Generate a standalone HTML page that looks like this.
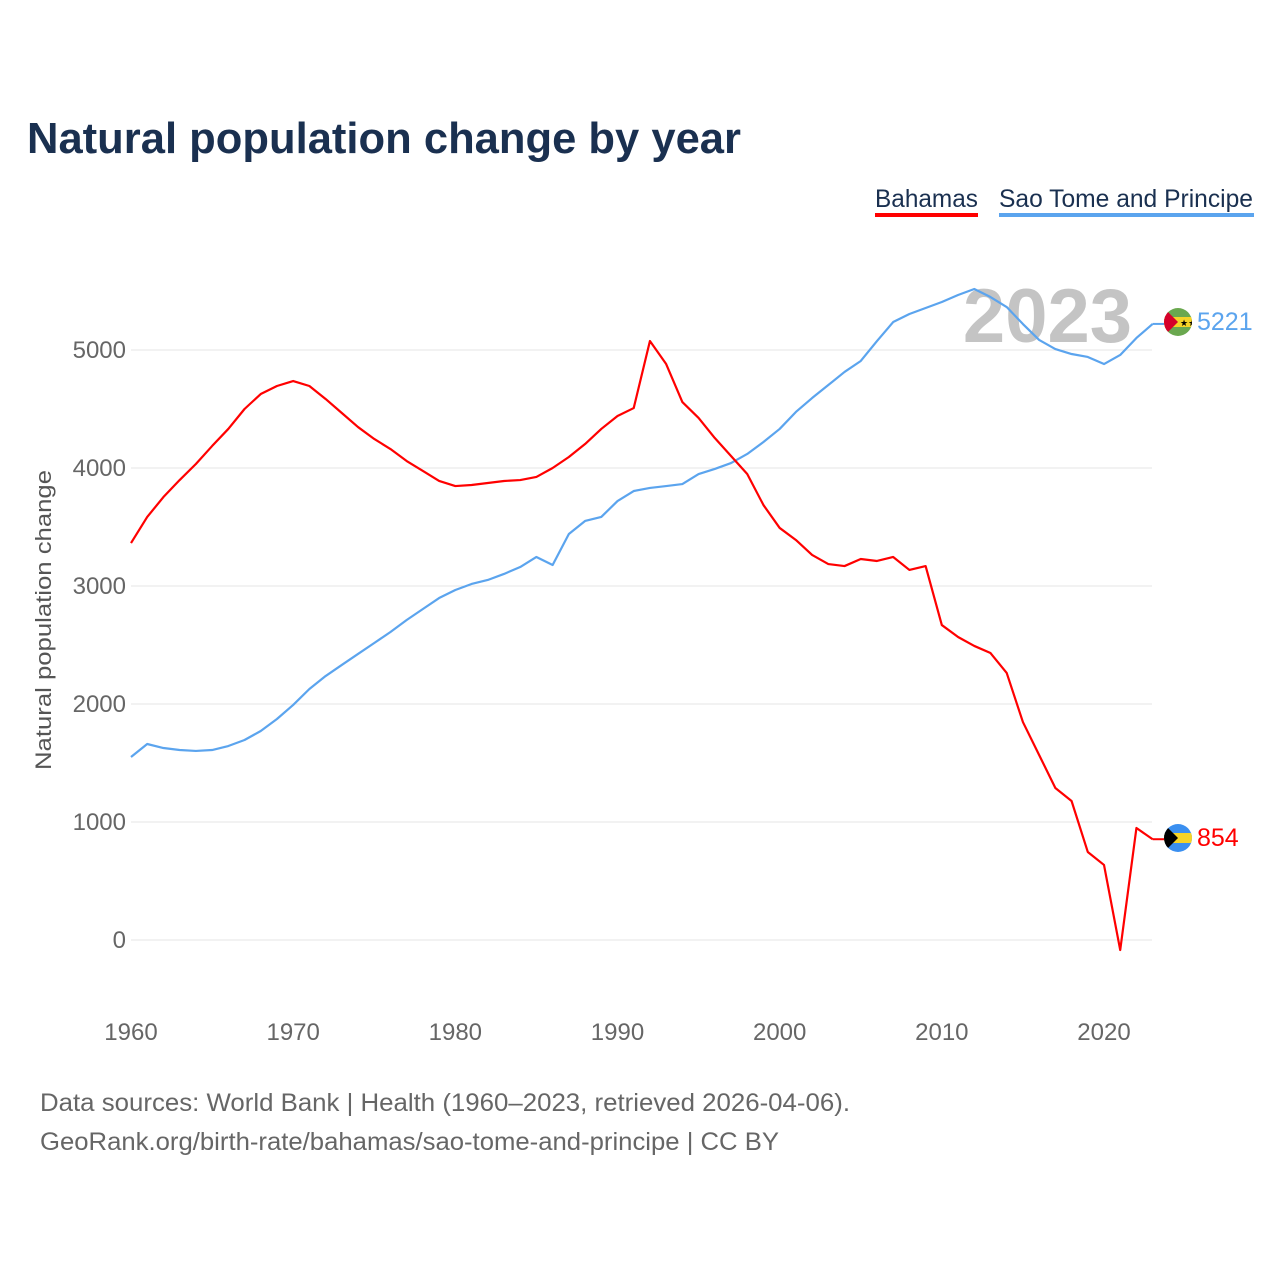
<!DOCTYPE html>
<html><head><meta charset="utf-8">
<style>
body{margin:0;background:#fff;width:1280px;height:1280px;overflow:hidden;font-family:"Liberation Sans",sans-serif}
svg text{font-family:"Liberation Sans",sans-serif}
</style></head>
<body>
<svg id="chart" width="1280" height="1280">
<text x="27" y="153" font-size="44" font-weight="bold" fill="#1a3050" textLength="714" lengthAdjust="spacingAndGlyphs">Natural population change by year</text>
<g><text x="875" y="207" font-size="25" fill="#1a3050" textLength="103" lengthAdjust="spacingAndGlyphs">Bahamas</text><rect x="875" y="213" width="103" height="4" fill="#ff0000"/></g>
<g><text x="999" y="207" font-size="25" fill="#1a3050" textLength="254" lengthAdjust="spacingAndGlyphs">Sao Tome and Principe</text><rect x="999" y="213" width="255" height="4" fill="#5ba4ee"/></g>
<text x="1132" y="342" font-size="76" font-weight="bold" fill="#c4c4c4" text-anchor="end">2023</text>
<g id="grid"></g>
<g id="lines"></g>
<text transform="translate(51,620) rotate(-90)" font-size="22" fill="#555" text-anchor="middle" textLength="300" lengthAdjust="spacingAndGlyphs">Natural population change</text>
<text x="40" y="1111" font-size="25" fill="#666" textLength="810" lengthAdjust="spacingAndGlyphs">Data sources: World Bank | Health (1960–2023, retrieved 2026-04-06).</text>
<text x="40" y="1150" font-size="25" fill="#666" textLength="739" lengthAdjust="spacingAndGlyphs">GeoRank.org/birth-rate/bahamas/sao-tome-and-principe | CC BY</text>
<g>
<clipPath id="c1"><circle cx="1178" cy="322" r="14"/></clipPath>
<g clip-path="url(#c1)"><rect x="1164" y="308" width="28" height="28" fill="#6aa84f"/><rect x="1164" y="317" width="28" height="10" fill="#f5d327"/><polygon points="1164,308 1178,322 1164,336" fill="#d6002a"/><text x="1180" y="326" font-size="9">★★</text></g></g>
<text x="1197" y="330" font-size="25" fill="#5ba4ee">5221</text>
<g>
<clipPath id="c2"><circle cx="1178" cy="838" r="14"/></clipPath>
<g clip-path="url(#c2)"><rect x="1164" y="824" width="28" height="28" fill="#3a8ff0"/><rect x="1164" y="833" width="28" height="10" fill="#f5d327"/><polygon points="1164,824 1178,838 1164,852" fill="#000"/></g></g>
<text x="1197" y="846" font-size="25" fill="#ff0000">854</text>
</svg>
<script>
const years=[];for(let y=1960;y<=2023;y++)years.push(y);
const bahamas=[3364,3585,3754,3898,4034,4186,4331,4500,4627,4695,4737,4695,4585,4466,4347,4246,4161,4059,3975,3890,3847,3856,3873,3890,3898,3924,4000,4093,4203,4331,4441,4508,5076,4881,4559,4424,4254,4102,3949,3686,3492,3390,3263,3186,3169,3229,3212,3246,3136,3169,2669,2568,2492,2432,2263,1847,1568,1288,1178,746,636,-85,949,854];
const saoTome=[1551,1661,1627,1610,1602,1610,1644,1695,1771,1873,1992,2127,2237,2331,2424,2517,2610,2712,2805,2898,2966,3017,3051,3102,3161,3246,3178,3441,3551,3585,3720,3805,3831,3847,3864,3949,3992,4042,4119,4220,4331,4475,4593,4703,4814,4907,5076,5237,5305,5356,5407,5466,5517,5449,5364,5220,5085,5008,4966,4941,4881,4958,5102,5221];
const yTicks=[0,1000,2000,3000,4000,5000];
const xTicks=[1960,1970,1980,1990,2000,2010,2020];
const X=y=>131+(y-1960)*(973/60);
const Y=v=>940-v*0.118;
const NS="http://www.w3.org/2000/svg";
const grid=document.getElementById('grid'),lines=document.getElementById('lines');
yTicks.forEach(t=>{
 const l=document.createElementNS(NS,'line');
 l.setAttribute('x1',131);l.setAttribute('x2',1152);l.setAttribute('y1',Y(t));l.setAttribute('y2',Y(t));
 l.setAttribute('stroke','#e6e6e6');l.setAttribute('stroke-width','1');
 
 
 grid.appendChild(l);
 const tx=document.createElementNS(NS,'text');
 tx.setAttribute('x',126);tx.setAttribute('y',Y(t)+8);tx.setAttribute('text-anchor','end');
 tx.setAttribute('font-size','24');tx.setAttribute('fill','#666');tx.textContent=t;
 
 
 grid.appendChild(tx);
});
xTicks.forEach(t=>{
 const tx=document.createElementNS(NS,'text');
 tx.setAttribute('x',X(t));tx.setAttribute('y',1040);tx.setAttribute('text-anchor','middle');
 tx.setAttribute('font-size','24');tx.setAttribute('fill','#666');tx.textContent=t;
 
 
 grid.appendChild(tx);
});
function line(vals,color,name){
 const p=document.createElementNS(NS,'polyline');
 p.setAttribute('points',vals.map((v,i)=>X(years[i])+','+Y(v)).join(' '));
 p.setAttribute('fill','none');p.setAttribute('stroke',color);p.setAttribute('stroke-width','2.2');
 p.setAttribute('stroke-linejoin','round');
 
 
 lines.appendChild(p);
 const c=document.createElementNS(NS,'line');
 const ly=Y(vals[vals.length-1]);
 c.setAttribute('x1',X(2023));c.setAttribute('x2',1164);c.setAttribute('y1',ly);c.setAttribute('y2',ly);
 c.setAttribute('stroke',color);c.setAttribute('stroke-width','2');
 
 
 lines.appendChild(c);
}
line(saoTome,'#5ba4ee','sao-tome-line');
line(bahamas,'#ff0000','bahamas-line');
</script>
</body></html>
